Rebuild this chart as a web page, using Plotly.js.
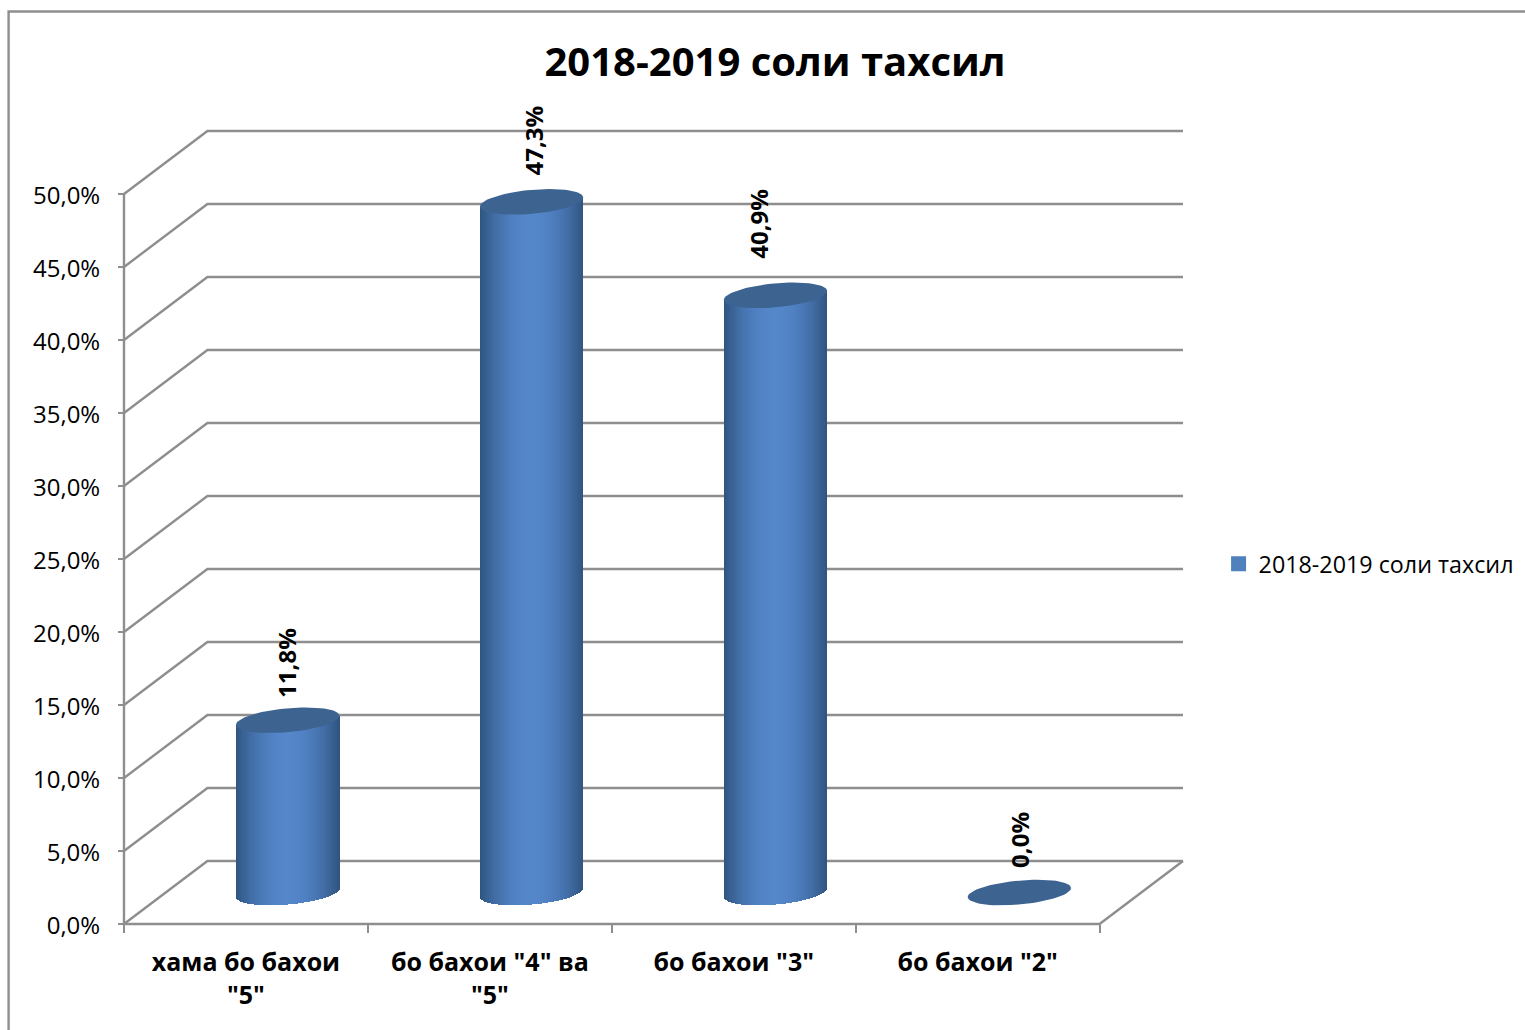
<!DOCTYPE html>
<html>
<head>
<meta charset="utf-8">
<script src="https://cdn.plot.ly/plotly-3.0.1.min.js"></script>
<style>html,body{margin:0;padding:0;background:#fff;overflow:hidden}</style>
</head>
<body>
<div id="chart" style="width:1525px;height:1030px"></div>
<script>
const seriesName = '2018-2019 соли тахсил';
const categories = ['хама бо бахои<br>"5"', 'бо бахои "4" ва<br>"5"', 'бо бахои "3"', 'бо бахои "2"'];
const values = [11.8, 47.3, 40.9, 0.0];
const valueLabels = ['11,8%', '47,3%', '40,9%', '0,0%'];
const yTicks = [0, 5, 10, 15, 20, 25, 30, 35, 40, 45, 50];
const yTickLabels = ['0,0%', '5,0%', '10,0%', '15,0%', '20,0%', '25,0%', '30,0%', '35,0%', '40,0%', '45,0%', '50,0%'];

// Geometry of the faux-3D scene (pixels on the page)
const W = 1525, H = 1030;
const frontL = 123.5, frontB = 924, catPx = 244.1, pctPx = 14.61;
const depthPxX = 83.5, depthPxY = 63, PAD = 12;
const backR = frontL + 4 * catPx + depthPxX, backT = frontB - 50 * pctPx - depthPxY;
const FONT = '"Open Sans", "Noto Sans", sans-serif';
const GRID = '#8e8e8e';

const depthX = depthPxX / catPx, depthY = depthPxY / pctPx;
const n = categories.length;
const centers = categories.map((_, i) => i + 0.5 + depthX / 2);
const a = 51.7 / catPx, tilt = 4.5 / pctPx, b = 12 / pctPx;
const plotW = backR - frontL + 2 * PAD, plotH = frontB - backT + 2 * PAD;
const paperX = px => (px - (frontL - PAD)) / plotW;
const paperY = py => ((frontB + PAD) - py) / plotH;

const shapes = [];
function seg(points) {
  shapes.push({
    type: 'path', xref: 'x', yref: 'y', layer: 'below',
    path: points.map((p, i) => (i ? 'L' : 'M') + p[0] + ',' + p[1]).join(' '),
    line: {color: GRID, width: 2.4}
  });
}
yTicks.forEach(v => seg([[0, v], [depthX, v + depthY], [n + depthX, v + depthY]]));
seg([[0, 0], [0, 50]]);
seg([[0, 0], [n, 0], [n + depthX, depthY]]);
// outer chart frame, left and top edges
shapes.push({type: 'path', xref: 'paper', yref: 'paper', layer: 'below',
  path: 'M' + paperX(8) + ',' + paperY(H + 4) +
        ' L' + paperX(8) + ',' + paperY(11) +
        ' L' + paperX(W + 4) + ',' + paperY(11),
  line: {color: GRID, width: 2.4}});

const traces = [];
// the data series: sits behind the shading strips and supplies the legend entry
traces.push({
  type: 'bar', name: seriesName, x: centers, y: values,
  base: values.map(() => depthY / 2), width: 0.2,
  marker: {color: '#4f81bd', line: {color: '#4f81bd', width: 3}},
  hoverinfo: 'skip', showlegend: true
});

function mix(c1, c2, s) {
  return 'rgb(' + c1.map((v, i) => Math.round(v + (c2[i] - v) * s)).join(',') + ')';
}
const STRIPS = 104, light = [84, 134, 202], dark = [47, 84, 128];
for (let k = 0; k < STRIPS; k++) {
  const t = -1 + (2 * k + 1) / STRIPS;
  const lower = tilt * t - b * Math.sqrt(1 - t * t);
  const upper = tilt * t;
  traces.push({
    type: 'bar', showlegend: false, hoverinfo: 'skip',
    x: centers.map(c => c + t * a),
    y: values.map(v => v > 0 ? v + upper - lower : null),
    base: values.map(() => depthY / 2 + lower),
    width: 2 * a / STRIPS * 1.4,
    marker: {color: mix(light, dark, Math.pow(Math.abs(t), 2)), line: {width: 0}}
  });
}
// top caps of the cylinders
const ex = [], ey = [];
values.forEach((v, i) => {
  for (let d = 0; d <= 72; d++) {
    const th = d / 72 * 2 * Math.PI;
    ex.push(centers[i] + a * Math.cos(th));
    ey.push(v + depthY / 2 + tilt * Math.cos(th) + b * Math.sin(th));
  }
  ex.push(null); ey.push(null);
});
traces.push({
  type: 'scatter', mode: 'lines', x: ex, y: ey, fill: 'toself', fillcolor: '#3d6491',
  line: {width: 0, color: '#3d6491'}, hoverinfo: 'skip', showlegend: false
});

const labelShiftX = [-1, 2, -17, 0];
const labelShiftY = [57, 61, 72, 53];
const annotations = values.map((v, i) => ({
  xref: 'x', yref: 'y', x: centers[i], y: v + depthY / 2,
  xshift: labelShiftX[i], yshift: labelShiftY[i],
  text: '<b>' + valueLabels[i] + '</b>', textangle: -90, showarrow: false,
  xanchor: 'center', yanchor: 'middle',
  font: {family: FONT, size: 24, color: '#000'}
}));

const layout = {
  width: W, height: H, autosize: false, showlegend: true,
  paper_bgcolor: '#fff', plot_bgcolor: 'rgba(0,0,0,0)',
  barmode: 'overlay', bargap: 0,
  margin: {l: frontL - PAD, r: W - backR - PAD, t: backT - PAD, b: H - frontB - PAD, pad: 0, autoexpand: false},
  title: {text: '<b>' + seriesName + '</b>', font: {family: FONT, size: 40, color: '#000'},
    x: 775 / W, xref: 'container', xanchor: 'center', y: 1 - 62 / H, yref: 'container', yanchor: 'middle'},
  font: {family: FONT, color: '#000'},
  xaxis: {
    range: [-PAD / catPx, n + depthX + PAD / catPx], anchor: 'free', position: PAD / plotH,
    tickmode: 'array', tickvals: categories.map((_, i) => i + 0.5),
    ticktext: categories.map(c => c.split('<br>').map(s => '<b>' + s + '</b>').join('<br>')),
    ticks: '', ticklen: 0, ticklabelstandoff: 21,
    tickfont: {family: FONT, size: 25, color: '#000'},
    minor: {tickmode: 'array', tickvals: [0, 1, 2, 3, 4], ticks: 'outside', ticklen: 8, tickwidth: 2, tickcolor: GRID, showgrid: false},
    showgrid: false, zeroline: false, showline: false, fixedrange: true
  },
  yaxis: {
    range: [-PAD / pctPx, 50 + depthY + PAD / pctPx], anchor: 'free', position: PAD / plotW,
    tickmode: 'array', tickvals: yTicks, ticktext: yTickLabels,
    ticks: 'outside', ticklen: 6, tickwidth: 2, tickcolor: GRID, ticklabelstandoff: 13, ticklabelshift: 2,
    tickfont: {family: FONT, size: 24, color: '#000'},
    showgrid: false, zeroline: false, showline: false, fixedrange: true
  },
  legend: {
    x: paperX(1219), y: paperY(564), xanchor: 'left', yanchor: 'middle',
    font: {family: FONT, size: 23.3, color: '#000'}, bgcolor: 'rgba(0,0,0,0)', borderwidth: 0
  },
  shapes: shapes, annotations: annotations
};
Plotly.newPlot('chart', traces, layout, {staticPlot: true, displayModeBar: false});
</script>
</body>
</html>
